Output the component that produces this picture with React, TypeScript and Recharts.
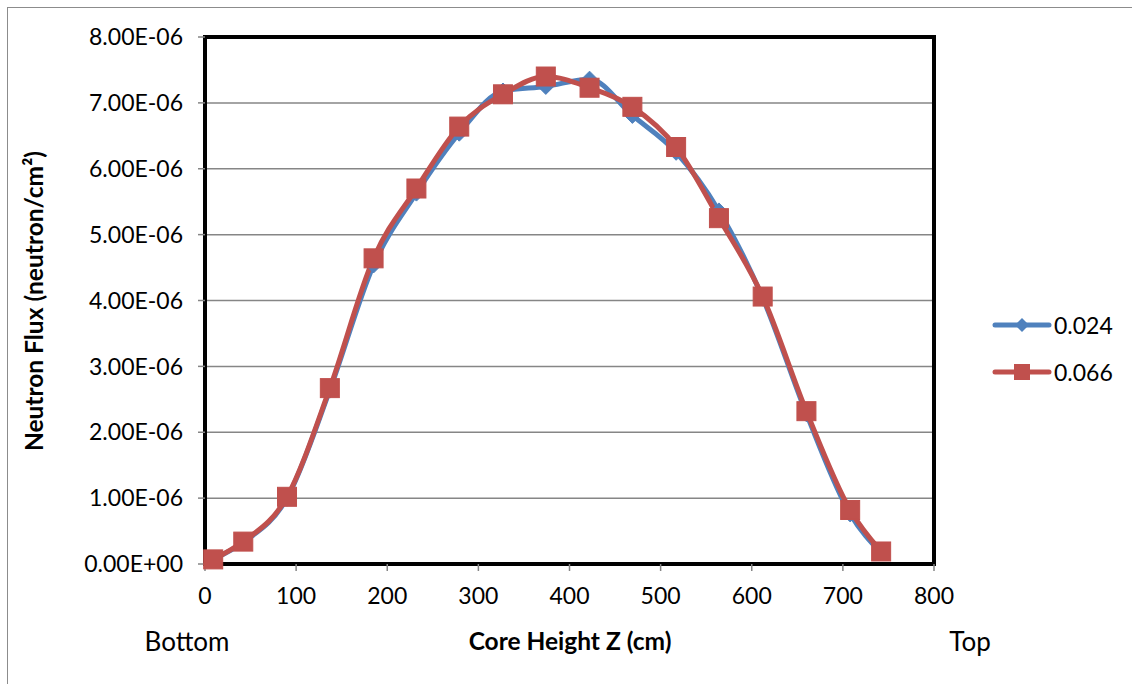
import React from "react";
import { LineChart, Line, XAxis, YAxis, CartesianGrid, ReferenceArea } from "recharts";

// core height positions (cm)
const heights = [9, 42, 90, 137, 185, 232, 279, 327, 374, 422, 469, 517, 564, 612, 660, 708, 742];
// neutron flux for each enrichment case
const flux024 = [0.07e-6, 0.33e-6, 1.0e-6, 2.64e-6, 4.54e-6, 5.63e-6, 6.54e-6, 7.18e-6, 7.25e-6, 7.36e-6, 6.81e-6, 6.25e-6, 5.36e-6, 4.04e-6, 2.28e-6, 0.76e-6, 0.17e-6];
const flux066 = [0.07e-6, 0.34e-6, 1.02e-6, 2.67e-6, 4.64e-6, 5.70e-6, 6.64e-6, 7.13e-6, 7.40e-6, 7.23e-6, 6.94e-6, 6.33e-6, 5.25e-6, 4.06e-6, 2.32e-6, 0.82e-6, 0.19e-6];
const xTicks = [0, 100, 200, 300, 400, 500, 600, 700, 800];
const yTicks = [0, 1e-6, 2e-6, 3e-6, 4e-6, 5e-6, 6e-6, 7e-6, 8e-6];

const BLUE = "#4F81BD";
const RED = "#C0504D";
const FONT = "Lato, 'Open Sans', sans-serif";

const rows = heights.map((z, i) => ({ z, a: flux024[i], b: flux066[i] }));

// 8e-6 -> "8.00E-06", 0 -> "0.00E+00"
function sci(v: number) {
  const [m, e] = v.toExponential(2).split("e");
  const n = parseInt(e, 10);
  return `${m}E${n < 0 ? "-" : "+"}${String(Math.abs(n)).padStart(2, "0")}`;
}

function Diamond(props: any) {
  const { cx, cy, index } = props;
  if (cx == null || cy == null) return null;
  const r = 8;
  return (
    <polygon
      key={`d-${index}`}
      points={`${cx},${cy - r} ${cx + r},${cy} ${cx},${cy + r} ${cx - r},${cy}`}
      fill={BLUE}
      stroke={BLUE}
      strokeWidth={1}
    />
  );
}

function Square(props: any) {
  const { cx, cy, index } = props;
  if (cx == null || cy == null) return null;
  const s = 19;
  return <rect key={`s-${index}`} x={cx - s / 2} y={cy - s / 2} width={s} height={s} fill={RED} stroke={RED} strokeWidth={1} />;
}

function LegendRow({ color, label, shape, top }: { color: string; label: string; shape: "diamond" | "square"; top: number }) {
  return (
    <div style={{ position: "absolute", left: 992, top, display: "flex", alignItems: "center" }}>
      <svg width={60} height={24}>
        <line x1={3} y1={12} x2={57} y2={12} stroke={color} strokeWidth={5} strokeLinecap="round" />
        {shape === "diamond" ? (
          <polygon points="30,5 37,12 30,19 23,12" fill={color} />
        ) : (
          <rect x={22} y={4} width={16} height={16} fill={color} />
        )}
      </svg>
      <span style={{ fontFamily: FONT, fontSize: 23, color: "#000", marginLeft: 2 }}>{label}</span>
    </div>
  );
}

export default function App() {
  return (
    <div style={{ position: "absolute", left: 0, top: 0, width: 1132, height: 684, overflow: "hidden", background: "#fff" }}>
      <div style={{ position: "absolute", left: 7, top: 7, width: 1200, height: 800, border: "1.5px solid #8c8c8c" }} />
      <LineChart width={1132} height={684} data={rows} margin={{ top: 37, right: 198, bottom: 80, left: 0 }}>
        <CartesianGrid horizontal vertical={false} stroke="#868686" strokeWidth={1.5} />
        <XAxis
          dataKey="z"
          type="number"
          domain={[0, 800]}
          ticks={xTicks}
          height={40}
          axisLine={false}
          tickLine={{ stroke: "#868686", strokeWidth: 1.5 }}
          tickSize={7}
          tickMargin={17}
          tick={{ fill: "#000", fontSize: 23, fontFamily: FONT }}
          interval={0}
        />
        <YAxis
          type="number"
          domain={[0, 8e-6]}
          ticks={yTicks}
          width={205}
          axisLine={false}
          tickLine={{ stroke: "#868686", strokeWidth: 1.5 }}
          tickSize={7}
          tickMargin={15}
          tickFormatter={sci}
          tick={{ fill: "#000", fontSize: 23, fontFamily: FONT }}
          interval={0}
        />
        <ReferenceArea x1={0} x2={800} y1={0} y2={8e-6} fill="none" stroke="#000" strokeWidth={4} ifOverflow="visible" />
        <Line dataKey="a" type="monotone" stroke={BLUE} strokeWidth={5} dot={Diamond} activeDot={false} isAnimationActive={false} />
        <Line dataKey="b" type="monotone" stroke={RED} strokeWidth={5} dot={Square} activeDot={false} isAnimationActive={false} />
      </LineChart>

      <div
        style={{
          position: "absolute",
          left: 33,
          top: 301,
          transform: "translate(-50%, -50%) rotate(-90deg)",
          whiteSpace: "nowrap",
          fontFamily: FONT,
          fontWeight: 700,
          fontSize: 24.5,
          color: "#000",
        }}
      >
        Neutron Flux (neutron/cm²)
      </div>
      <div style={{ position: "absolute", left: 570, top: 640, transform: "translate(-50%, -50%)", whiteSpace: "nowrap", fontFamily: FONT, fontWeight: 700, fontSize: 24.5, color: "#000" }}>
        Core Height Z (cm)
      </div>
      <div style={{ position: "absolute", left: 187, top: 641, transform: "translate(-50%, -50%)", fontFamily: FONT, fontSize: 26, color: "#000" }}>Bottom</div>
      <div style={{ position: "absolute", left: 970, top: 641, transform: "translate(-50%, -50%)", fontFamily: FONT, fontSize: 26, color: "#000" }}>Top</div>

      <LegendRow color={BLUE} label="0.024" shape="diamond" top={311} />
      <LegendRow color={RED} label="0.066" shape="square" top={358} />
    </div>
  );
}
